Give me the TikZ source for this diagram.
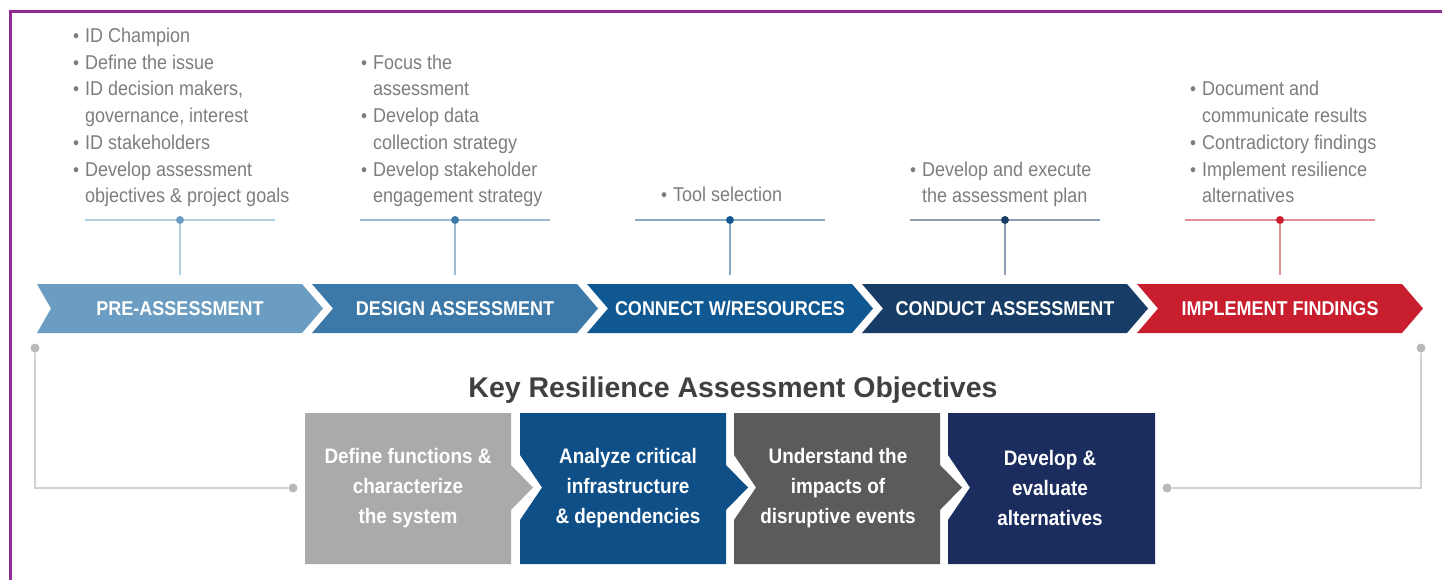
\documentclass[tikz,border=0pt]{standalone}
\usepackage{fontspec}
\setmainfont[FakeStretch=0.9]{Liberation Sans}
\newfontfamily\titlefont{Liberation Sans}
\usetikzlibrary{positioning}

\definecolor{preblue}{RGB}{107,157,194}
\definecolor{designblue}{RGB}{60,120,168}
\definecolor{connectblue}{RGB}{16,88,146}
\definecolor{conductblue}{RGB}{23,60,101}
\definecolor{implementred}{RGB}{200,30,45}
\definecolor{objgray}{RGB}{170,170,172}
\definecolor{objblue}{RGB}{14,79,136}
\definecolor{objdark}{RGB}{90,91,93}
\definecolor{objnavy}{RGB}{27,45,94}
\definecolor{bodygray}{RGB}{125,125,125}
\definecolor{titlegray}{RGB}{64,64,64}
\definecolor{linegray}{RGB}{210,210,210}
\definecolor{dotgray}{RGB}{185,185,187}
\definecolor{framepurple}{RGB}{142,44,145}

\tikzset{
  bullets/.style={anchor=south west, align=left, inner sep=0pt, text depth=0pt,
    text=bodygray, font=\fontsize{20}{26.7}\selectfont},
  tdot/.style={circle, inner sep=0pt, minimum size=8pt},
  tline/.style={line width=1.5pt},
  chevtext/.style={text=white, font=\bfseries\fontsize{20}{24}\selectfont,
    minimum height=49pt, inner sep=0pt},
  objtext/.style={text=white, align=center, font=\bfseries\fontsize{21}{30}\selectfont},
  gdot/.style={circle, fill=dotgray, inner sep=0pt, minimum size=9pt},
  gline/.style={draw=linegray, line width=1.5pt}
}
\newcommand{\bul}{\llap{\fontsize{19}{19}\selectfont\textbullet\hspace{6pt}}}

\begin{document}
\begin{tikzpicture}[x=1pt, y=-1pt]
    \useasboundingbox (0,0) rectangle (1442,580);

    % Frame
    \draw[line width=3pt, framepurple] (10,580) -- (10,12) -- (1442,12);

    % Draw the process chevrons
    \fill[preblue] (37,284) -- (302,284) -- (323,308.5) -- (302,333) -- (37,333) -- (51,308.5) -- cycle;
    \fill[designblue] (312,284) -- (577,284) -- (598,308.5) -- (577,333) -- (312,333) -- (333,308.5) -- cycle;
    \fill[connectblue] (587,284) -- (852,284) -- (873,308.5) -- (852,333) -- (587,333) -- (608,308.5) -- cycle;
    \fill[conductblue] (862,284) -- (1127,284) -- (1148,308.5) -- (1127,333) -- (862,333) -- (883,308.5) -- cycle;
    \fill[implementred] (1137,284) -- (1402,284) -- (1423,308.5) -- (1402,333) -- (1137,333) -- (1158,308.5) -- cycle;

    \node[chevtext] (c1) at (180,308.5) {PRE-ASSESSMENT};
    \node[chevtext] (c2) at (455,308.5) {DESIGN ASSESSMENT};
    \node[chevtext] (c3) at (730,308.5) {CONNECT W/RESOURCES};
    \node[chevtext] (c4) at (1005,308.5) {CONDUCT ASSESSMENT};
    \node[chevtext] (c5) at (1280,308.5) {IMPLEMENT FINDINGS};

    % Step notes
    \node[bullets] (b1) at (85,203) {\bul ID Champion\\ \bul Define the issue\\
      \bul ID decision makers,\\ governance, interest\\ \bul ID stakeholders\\
      \bul Develop assessment\\ objectives \& project goals};
    \node[bullets] (b2) at (373,203) {\bul Focus the\\ assessment\\ \bul Develop data\\
      collection strategy\\ \bul Develop stakeholder\\ engagement strategy};
    \node[bullets] (b3) at (673,202) {\bul Tool selection};
    \node[bullets] (b4) at (922,203) {\bul Develop and execute\\ the assessment plan};
    \node[bullets] (b5) at (1202,203) {\bul Document and\\ communicate results\\
      \bul Contradictory findings\\ \bul Implement resilience\\ alternatives};

    % Markers between notes and chevrons
    \node[tdot, fill=preblue] (d1) at (180,220) {};
    \node[tdot, fill=designblue] (d2) at (455,220) {};
    \node[tdot, fill=connectblue] (d3) at (730,220) {};
    \node[tdot, fill=conductblue] (d4) at (1005,220) {};
    \node[tdot, fill=implementred] (d5) at (1280,220) {};

    \draw[tline, preblue!50] ([xshift=-95pt]d1.center) -- (d1.west) (d1.east) -- ([xshift=95pt]d1.center);
    \draw[tline, preblue!50, shorten >=9pt] (d1) -- (c1.north);
    \draw[tline, designblue!50] ([xshift=-95pt]d2.center) -- (d2.west) (d2.east) -- ([xshift=95pt]d2.center);
    \draw[tline, designblue!50, shorten >=9pt] (d2) -- (c2.north);
    \draw[tline, connectblue!50] ([xshift=-95pt]d3.center) -- (d3.west) (d3.east) -- ([xshift=95pt]d3.center);
    \draw[tline, connectblue!50, shorten >=9pt] (d3) -- (c3.north);
    \draw[tline, conductblue!50] ([xshift=-95pt]d4.center) -- (d4.west) (d4.east) -- ([xshift=95pt]d4.center);
    \draw[tline, conductblue!50, shorten >=9pt] (d4) -- (c4.north);
    \draw[tline, implementred!50] ([xshift=-95pt]d5.center) -- (d5.west) (d5.east) -- ([xshift=95pt]d5.center);
    \draw[tline, implementred!50, shorten >=9pt] (d5) -- (c5.north);

    % Objectives
    \node[font=\titlefont\bfseries\fontsize{28.5}{30}\selectfont, text=titlegray, anchor=base]
      (title) at (733,397) {Key Resilience Assessment Objectives};

    \fill[objgray] (305,413) -- (511,413) -- (511,465) -- (533,487.5) -- (511,510) -- (511,564) -- (305,564) -- cycle;
    \fill[objblue] (520,413) -- (726,413) -- (726,465) -- (748,487.5) -- (726,510) -- (726,564) -- (520,564)
      -- (520,520) -- (542,487.5) -- (520,455) -- cycle;
    \fill[objdark] (734,413) -- (940,413) -- (940,465) -- (962,487.5) -- (940,510) -- (940,564) -- (734,564)
      -- (734,520) -- (756,487.5) -- (734,455) -- cycle;
    \fill[objnavy] (948,413) -- (1155,413) -- (1155,564) -- (948,564) -- (948,520) -- (970,487.5) -- (948,455) -- cycle;

    \node[objtext] (o1) at (408,488) {Define functions \&\\ characterize\\ the system};
    \node[objtext] (o2) at (628,488) {Analyze critical\\ infrastructure\\ \& dependencies};
    \node[objtext] (o3) at (838,488) {Understand the\\ impacts of\\ disruptive events};
    \node[objtext] (o4) at (1050,488) {Develop \&\\ evaluate\\ alternatives};

    % Side links
    \node[gdot] (l1) at (35,348) {};
    \node[gdot] (l2) at (293,488) {};
    \node[gdot] (r1) at (1421,348) {};
    \node[gdot] (r2) at (1167,488) {};
    \draw[gline] (l1) |- (l2);
    \draw[gline] (r1) |- (r2);
\end{tikzpicture}
\end{document}
